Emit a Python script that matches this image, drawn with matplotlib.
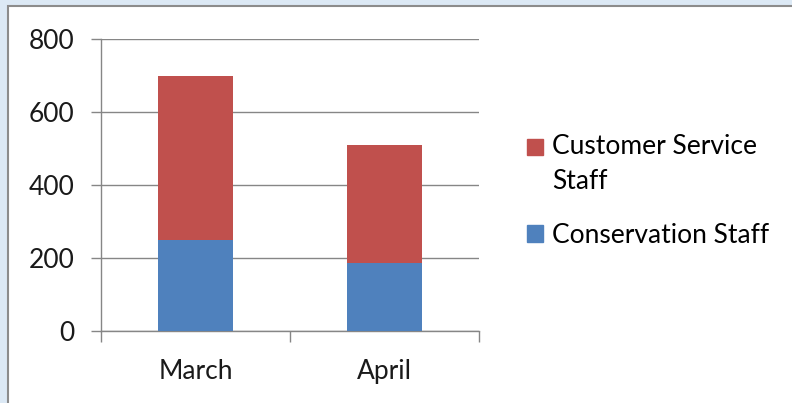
import matplotlib
matplotlib.use('Agg')
import matplotlib.pyplot as plt
from matplotlib.patches import Patch, Rectangle
from matplotlib.legend_handler import HandlerPatch

# -------------------------------
# Data
# -------------------------------
months = ['March', 'April']
conservation = [250, 185]
customer_service = [450, 325]
yticks = [0, 200, 400, 600, 800]

blue = '#4f81bd'
red = '#c0504d'
gray = '#868686'

plt.rcParams['font.family'] = ['Lato', 'DejaVu Sans']

fig = plt.figure(figsize=(7.92, 4.03), dpi=100)
fig.patch.set_facecolor('#dce9f5')

# white chart area with grey frame
fig.patches.append(Rectangle((8 / 792, -0.05), 1.1, 1 - 6 / 403 + 0.05,
                             transform=fig.transFigure, facecolor='white',
                             edgecolor='#8c8c8c', linewidth=1.5, zorder=-1))

ax = fig.add_axes([101 / 792, 72 / 403, 378 / 792, 292 / 403])
ax.set_facecolor('none')
ax.set_zorder(1)

x = range(len(months))
ax.bar(x, conservation, width=0.4, color=blue, zorder=3)
ax.bar(x, customer_service, width=0.4, bottom=conservation, color=red, zorder=3)

ax.set_xlim(-0.5, 1.5)
ax.set_ylim(0, 800)
ax.set_yticks(yticks)
ax.yaxis.grid(True, color=gray, linewidth=1, zorder=0)
ax.set_axisbelow(True)

ax.set_xticks([-0.5, 0.5, 1.5])
ax.set_xticklabels([])
ax.set_xticks(list(x), minor=True)
ax.set_xticklabels(months, minor=True)
ax.tick_params(axis='x', which='major', length=8, width=1, color=gray, direction='out')
ax.tick_params(axis='x', which='minor', length=0, pad=20, labelsize=19, labelcolor='#1a1a1a')
ax.tick_params(axis='y', length=7, width=1, color=gray, pad=12, labelsize=19, labelcolor='#1a1a1a')

for side in ['top', 'right']:
    ax.spines[side].set_visible(False)
for side in ['left', 'bottom']:
    ax.spines[side].set_color(gray)
    ax.spines[side].set_linewidth(1)


# legend square of the two-line entry sits next to the first line
def top_line_square(legend, orig_handle, xdescent, ydescent, width, height, fontsize):
    return Rectangle((-xdescent, -ydescent + 12.6), width, height)


red_patch = Patch(color=red)
blue_patch = Patch(color=blue)
labels = ['Customer Service\nStaff', 'Conservation Staff']
leg = fig.legend([red_patch, blue_patch], labels, loc='upper left',
                 bbox_to_anchor=(527 / 792, 1 - 134 / 403),
                 handler_map={red_patch: HandlerPatch(patch_func=top_line_square)},
                 frameon=False, fontsize=19, handlelength=0.6, handleheight=0.6,
                 handletextpad=0.35, labelspacing=1.1, borderaxespad=0, borderpad=0)
for t in leg.get_texts():
    t.set_linespacing(1.48)

fig.savefig('out.png', dpi=100)
